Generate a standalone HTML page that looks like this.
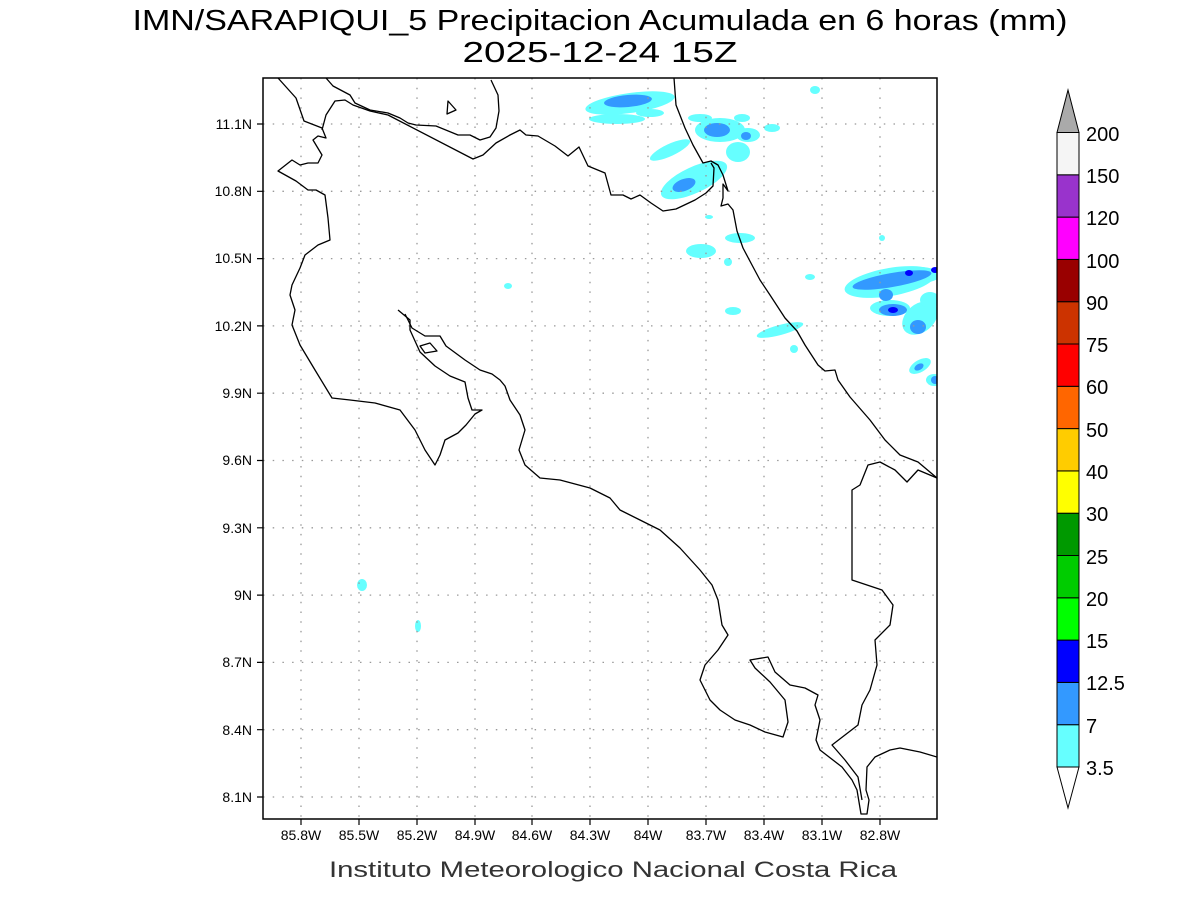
<!DOCTYPE html>
<html><head><meta charset="utf-8"><style>
html,body{margin:0;padding:0;background:#fff;}
svg{display:block;font-family:"Liberation Sans",sans-serif;}
</style></head><body>
<svg width="1200" height="900" viewBox="0 0 1200 900" xmlns="http://www.w3.org/2000/svg">
<rect width="1200" height="900" fill="#fff"/>
<text x="600" y="30" font-size="29" text-anchor="middle" fill="#000" textLength="935" lengthAdjust="spacingAndGlyphs">IMN/SARAPIQUI_5 Precipitacion Acumulada en 6 horas (mm)</text>
<text x="600" y="62" font-size="29" text-anchor="middle" fill="#000" textLength="275" lengthAdjust="spacingAndGlyphs">2025-12-24 15Z</text>
<defs><clipPath id="c"><rect x="263" y="78" width="674" height="741"/></clipPath></defs>
<g clip-path="url(#c)">
<!-- precipitation -->
<g fill="#66ffff">
<ellipse cx="630" cy="103" rx="45" ry="10" transform="rotate(-8 630 103)"/>
<ellipse cx="617" cy="119" rx="28" ry="5"/>
<ellipse cx="650" cy="113" rx="14" ry="4"/>
<ellipse cx="700" cy="118" rx="12" ry="4"/>
<ellipse cx="720" cy="130" rx="25" ry="12"/>
<ellipse cx="742" cy="118" rx="8" ry="4"/>
<ellipse cx="748" cy="135" rx="12" ry="7"/>
<ellipse cx="738" cy="152" rx="12" ry="10"/>
<ellipse cx="670" cy="150" rx="22" ry="6" transform="rotate(-25 670 150)"/>
<ellipse cx="694" cy="180" rx="36" ry="13" transform="rotate(-25 694 180)"/>
<ellipse cx="772" cy="128" rx="8" ry="4"/>
<ellipse cx="815" cy="90" rx="5" ry="4"/>
<ellipse cx="709" cy="217" rx="4" ry="2"/>
<ellipse cx="740" cy="238" rx="15" ry="5"/>
<ellipse cx="701" cy="251" rx="15" ry="7"/>
<ellipse cx="728" cy="262" rx="4" ry="4"/>
<ellipse cx="733" cy="311" rx="8" ry="4"/>
<ellipse cx="810" cy="277" rx="5" ry="3"/>
<ellipse cx="780" cy="330" rx="24" ry="5" transform="rotate(-15 780 330)"/>
<ellipse cx="794" cy="349" rx="4" ry="4"/>
<ellipse cx="882" cy="238" rx="3" ry="3"/>
<ellipse cx="890" cy="282" rx="46" ry="14" transform="rotate(-10 890 282)"/>
<ellipse cx="920" cy="275" rx="20" ry="8"/>
<ellipse cx="890" cy="308" rx="20" ry="8"/>
<ellipse cx="920" cy="318" rx="20" ry="14" transform="rotate(-40 920 318)"/>
<ellipse cx="930" cy="300" rx="10" ry="8"/>
<ellipse cx="920" cy="366" rx="12" ry="6" transform="rotate(-30 920 366)"/>
<ellipse cx="934" cy="380" rx="8" ry="6"/>
<ellipse cx="362" cy="585" rx="5" ry="6"/>
<ellipse cx="418" cy="626" rx="3" ry="6"/>
<ellipse cx="508" cy="286" rx="4" ry="3"/>
</g>
<g fill="#3399ff">
<ellipse cx="628" cy="101" rx="24" ry="6" transform="rotate(-5 628 101)"/>
<ellipse cx="717" cy="130" rx="13" ry="7"/>
<ellipse cx="746" cy="136" rx="5" ry="4"/>
<ellipse cx="684" cy="185" rx="12" ry="6" transform="rotate(-20 684 185)"/>
<ellipse cx="892" cy="280" rx="40" ry="7" transform="rotate(-10 892 280)"/>
<ellipse cx="886" cy="295" rx="7" ry="6"/>
<ellipse cx="893" cy="310" rx="14" ry="6"/>
<ellipse cx="918" cy="327" rx="8" ry="7"/>
<ellipse cx="919" cy="367" rx="5" ry="3" transform="rotate(-30 919 367)"/>
<ellipse cx="935" cy="380" rx="4" ry="4"/>
</g>
<g fill="#0000ff">
<ellipse cx="909" cy="273" rx="4" ry="3"/>
<ellipse cx="935" cy="270" rx="4" ry="3"/>
<ellipse cx="893" cy="310" rx="5" ry="3"/>
</g>
<!-- grid -->
<g stroke="#999" stroke-width="1.3" stroke-dasharray="1.5,8.2">
<path d="M301 78V819M359 78V819M417 78V819M475 78V819M532 78V819M590 78V819M648 78V819M706 78V819M764 78V819M822 78V819M880 78V819"/>
<path d="M263 124H937M263 191.3H937M263 258.6H937M263 325.9H937M263 393.2H937M263 460.5H937M263 527.8H937M263 595.1H937M263 662.4H937M263 729.7H937M263 797H937"/>
</g>
<!-- coastlines -->
<g fill="none" stroke="#000" stroke-width="1.3" stroke-linejoin="round">
<polyline points="278,78 296,98 304,121 322,128 326,138 318,136 313,140 316,145 322,155 318,163 308,163 300,165 292,160 278,171 296,181 308,190 316,190 325,195 328,218 330,240 318,245 305,255 300,268 292,285 290,295 295,310 292,325 300,345 315,370 332,398 350,400 375,403 400,410 415,430 425,450 435,465 440,455 445,440 458,433 466,425 475,414 482,410 472,410 468,398 465,382 450,376 435,366 420,352 410,330 410,320 398,310"/>
<polyline points="322,130 326,115 335,101 345,100 353,105 370,111 388,115 473,159 483,155 496,143 510,135 520,130 526,135 538,136 555,146 568,156 579,147 588,166 605,173 611,195 623,195 631,199 640,195 651,203 663,211 676,209 695,200 706,193 713,186 714,168 711,163"/>
<polyline points="326,78 333,86 350,95 355,103 370,110 388,113 400,118 408,123 416,125 436,126 458,135 470,135 480,140 490,137 496,128 499,111 498,95 491,80"/>
<polygon points="448,101 456,110 447,114"/>
<polyline points="674,78 676,105 685,128 693,145 703,163 711,161 718,165 723,175 728,191 723,184 723,198 721,206 728,204 733,210 737,231 743,248 752,265 760,280 770,295 785,318 797,331 805,345 818,365 825,371 835,370 838,380 850,397 870,420 885,440 900,455 918,462 937,478"/>
<polyline points="405,314 412,328 425,336 440,336 446,346 465,360 480,370 492,374 500,380 505,386 510,400 520,415 525,430 519,450 525,465 540,478 560,480 590,488 610,498 620,510 640,520 660,530 680,548 700,570 712,585 718,600 722,625 728,635 718,650 705,665 700,680 710,700 720,710 735,720 750,725 765,732 783,737 788,722 785,700 770,682 755,668 750,660 768,657 775,672 790,685 805,688 818,695 815,705 820,720 816,740 820,750 842,767 852,780 857,790 861,814 867,814 869,800 866,790 867,767 875,757 890,750 900,748 920,752 937,757"/>
<polygon points="420,346 430,343 437,351 425,353"/>
<polyline points="937,478 918,470 907,482 895,470 880,462 868,465 860,485 852,490 852,580 882,590 893,605 890,625 875,640 877,665 870,690 862,705 858,725 845,735 832,745 845,760 858,777 862,800"/>
</g>
</g>
<rect x="263" y="78" width="674" height="741" fill="none" stroke="#000" stroke-width="1.5"/>
<!-- axis ticks & labels -->
<g stroke="#000" stroke-width="1.2">
<path d="M301 819v6M359 819v6M417 819v6M475 819v6M532 819v6M590 819v6M648 819v6M706 819v6M764 819v6M822 819v6M880 819v6"/>
<path d="M257 124h6M257 191.3h6M257 258.6h6M257 325.9h6M257 393.2h6M257 460.5h6M257 527.8h6M257 595.1h6M257 662.4h6M257 729.7h6M257 797h6"/>
</g>
<g font-size="14" text-anchor="middle" fill="#000">
<text x="301" y="840">85.8W</text><text x="359" y="840">85.5W</text><text x="417" y="840">85.2W</text><text x="475" y="840">84.9W</text><text x="532" y="840">84.6W</text><text x="590" y="840">84.3W</text><text x="648" y="840">84W</text><text x="706" y="840">83.7W</text><text x="764" y="840">83.4W</text><text x="822" y="840">83.1W</text><text x="880" y="840">82.8W</text>
</g>
<g font-size="14" text-anchor="end" fill="#000">
<text x="252" y="129">11.1N</text><text x="252" y="196">10.8N</text><text x="252" y="263">10.5N</text><text x="252" y="331">10.2N</text><text x="252" y="398">9.9N</text><text x="252" y="465">9.6N</text><text x="252" y="533">9.3N</text><text x="252" y="600">9N</text><text x="252" y="667">8.7N</text><text x="252" y="735">8.4N</text><text x="252" y="802">8.1N</text>
</g>
<text x="613" y="877" font-size="22" text-anchor="middle" fill="#333" textLength="568" lengthAdjust="spacingAndGlyphs">Instituto Meteorologico Nacional Costa Rica</text>
<!-- colorbar -->
<g stroke="#000" stroke-width="1">
<polygon points="1057,767 1079,767 1068,808" fill="#fff"/>
<rect x="1057" y="724.7" width="22" height="42.3" fill="#66ffff"/>
<rect x="1057" y="682.4" width="22" height="42.3" fill="#3399ff"/>
<rect x="1057" y="640.1" width="22" height="42.3" fill="#0000ff"/>
<rect x="1057" y="597.8" width="22" height="42.3" fill="#00ff00"/>
<rect x="1057" y="555.5" width="22" height="42.3" fill="#00cc00"/>
<rect x="1057" y="513.2" width="22" height="42.3" fill="#009900"/>
<rect x="1057" y="470.9" width="22" height="42.3" fill="#ffff00"/>
<rect x="1057" y="428.6" width="22" height="42.3" fill="#ffcc00"/>
<rect x="1057" y="386.3" width="22" height="42.3" fill="#ff6600"/>
<rect x="1057" y="344" width="22" height="42.3" fill="#ff0000"/>
<rect x="1057" y="301.7" width="22" height="42.3" fill="#cc3300"/>
<rect x="1057" y="259.4" width="22" height="42.3" fill="#990000"/>
<rect x="1057" y="217.1" width="22" height="42.3" fill="#ff00ff"/>
<rect x="1057" y="174.8" width="22" height="42.3" fill="#9933cc"/>
<rect x="1057" y="132.5" width="22" height="42.3" fill="#f5f5f5"/>
<polygon points="1057,132.5 1079,132.5 1068,90" fill="#aaaaaa"/>
</g>
<g font-size="20" fill="#000">
<text x="1086" y="775">3.5</text><text x="1086" y="733">7</text><text x="1086" y="690">12.5</text><text x="1086" y="648">15</text><text x="1086" y="606">20</text><text x="1086" y="564">25</text><text x="1086" y="521">30</text><text x="1086" y="479">40</text><text x="1086" y="437">50</text><text x="1086" y="394">60</text><text x="1086" y="352">75</text><text x="1086" y="310">90</text><text x="1086" y="268">100</text><text x="1086" y="225">120</text><text x="1086" y="183">150</text><text x="1086" y="141">200</text>
</g>
</svg>
</body></html>
